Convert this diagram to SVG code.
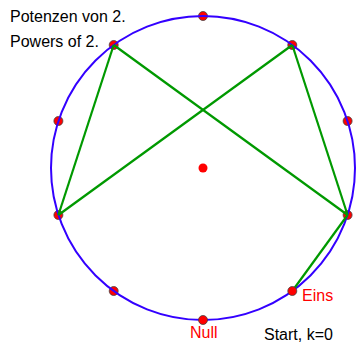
<svg xmlns="http://www.w3.org/2000/svg" width="361" height="343" viewBox="0 0 361 343">
<style>
.pt{fill:#ff0000;stroke:#444;stroke-width:0.8}
.ln{stroke:#009900;stroke-width:2.2;fill:none}
.t{font-family:"Liberation Sans",Arial,sans-serif;font-size:16px}
.red{fill:#ff0000}
</style>
<rect width="361" height="343" fill="#ffffff"/>
<g id="points">
<circle id="p2" class="pt" cx="347.6" cy="215" r="4.5"/>
<circle id="p3" class="pt" cx="347.6" cy="121" r="4.5"/>
<circle id="p4" class="pt" cx="292.3" cy="45" r="4.5"/>
<circle id="p5" class="pt" cx="203" cy="16" r="4.5"/>
<circle id="p6" class="pt" cx="113.7" cy="45" r="4.5"/>
<circle id="p7" class="pt" cx="58.4" cy="121" r="4.5"/>
<circle id="p8" class="pt" cx="58.4" cy="215" r="4.5"/>
<circle id="p9" class="pt" cx="113.7" cy="291" r="4.5"/>
</g>
<g id="circle">
<circle cx="203" cy="168" r="152" fill="none" stroke="#3300ff" stroke-width="2"/>
</g>
<g id="connectors">
<line class="ln" x1="292.3" y1="291" x2="347.6" y2="215"/>
<line class="ln" x1="347.6" y1="215" x2="292.3" y2="45"/>
<line class="ln" x1="292.3" y1="45" x2="58.4" y2="215"/>
<line class="ln" x1="58.4" y1="215" x2="113.7" y2="45"/>
<line class="ln" x1="113.7" y1="45" x2="347.6" y2="215"/>
</g>
<g id="center"><circle cx="203" cy="168" r="4.5" fill="#ff0000"/></g>
<g id="null"><circle class="pt" cx="203" cy="320" r="4.5"/><text class="t red" x="190" y="338">Null</text></g>
<g id="eins"><circle class="pt" cx="292.3" cy="291" r="4.5"/><text class="t red" x="302" y="301">Eins</text></g>
<text class="t" x="10" y="22">Potenzen von 2.</text>
<text class="t" x="10" y="47">Powers of 2.</text>
<text class="t" x="264" y="340">Start, k=0</text>
</svg>
